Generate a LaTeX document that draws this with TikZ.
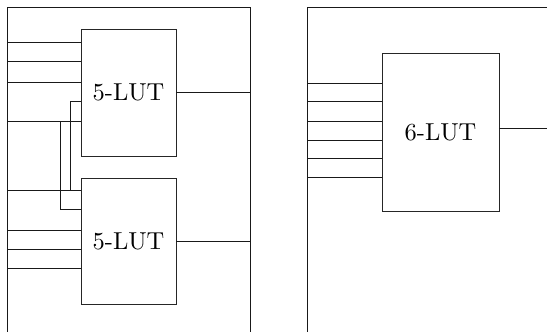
\documentclass[tikz,border=0pt]{standalone}
\usepackage{fontspec}
\setmainfont{lmroman10-regular.otf}
\usetikzlibrary{positioning,calc}
\tikzset{lut/.style={rectangle,draw=black!85,line width=0.9pt,
           minimum width=95pt,minimum height=126pt,inner sep=0,
           font=\fontsize{24.5}{29}\selectfont},
     wire/.style={draw=black!90,line width=0.9pt},
     frame/.style={draw=black!90,line width=0.9pt}}

\begin{document}
\begin{tikzpicture}[x=1pt,y=-1pt]
    \useasboundingbox (0,0) rectangle (547,332);
    % cell with two 5-LUTs
    \coordinate (lbot) at (7,332);
    \coordinate (ltop) at (7,7);
    \coordinate (rtop) at (250,7);
    \coordinate (rbot) at (250,332);
    \draw[frame] (lbot) -- (ltop) -- (rtop) -- (rbot);

    \node[lut,minimum height=127pt] (lutA) at (128.5,92.5) {5-LUT};
    \node[lut] (lutB) [below=22pt of lutA] {5-LUT};

    \foreach \y [count=\i] in {42,61,82,121} {
      \coordinate (ina\i) at (7,\y);
      \draw[wire] (ina\i) -- (ina\i -| lutA.west);
    }
    \foreach \y [count=\i] in {190,230,249,268} {
      \coordinate (inb\i) at (7,\y);
      \draw[wire] (inb\i) -- (inb\i -| lutB.west);
    }
    % shared inputs
    \coordinate (tapA) at (70,190);
    \coordinate (tapB) at (60,121);
    \draw[wire] (tapA) -- (70,101) -- (lutA.west |- 0,101);
    \draw[wire] (tapB) -- (60,209) -- (lutB.west |- 0,209);

    \draw[wire] (lutA.east) -- (lutA.east -| rtop);
    \draw[wire] (lutB.east) -- (lutB.east -| rtop);

    % cell with one 6-LUT
    \coordinate (sbot) at (307,332);
    \coordinate (stop) at (307,7);
    \coordinate (send) at (547,7);
    \draw[frame] (sbot) -- (stop) -- (send);

    \node[lut,minimum width=117pt,minimum height=158pt] (lutC) at (440.5,132) {6-LUT};
    \coordinate (outC) at (547,128);

    \foreach \y [count=\i] in {83,101,121,140,158,177} {
      \coordinate (inc\i) at (307,\y);
      \draw[wire] (inc\i) -- (inc\i -| lutC.west);
    }
    \draw[wire] (outC -| lutC.east) -- (outC);
\end{tikzpicture}
\end{document}
